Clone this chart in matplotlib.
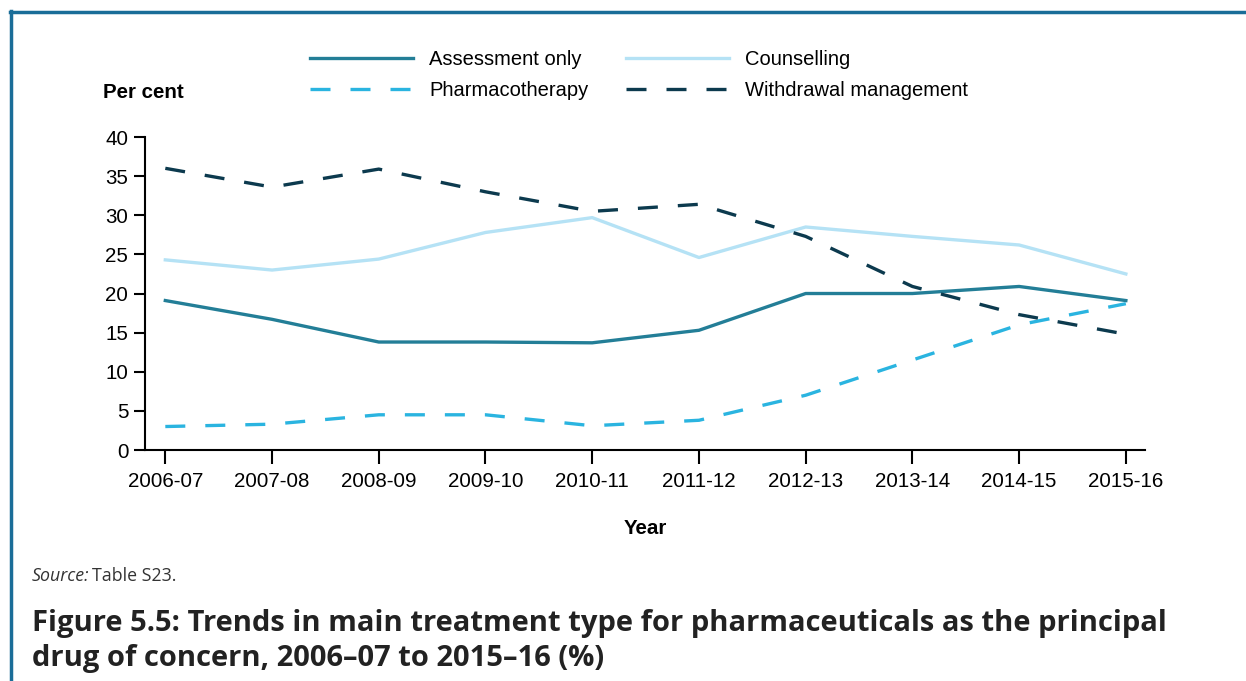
import matplotlib.pyplot as plt
from matplotlib.lines import Line2D

# values (per cent)
years = ["2006-07", "2007-08", "2008-09", "2009-10", "2010-11",
         "2011-12", "2012-13", "2013-14", "2014-15", "2015-16"]
assessment = [19.1, 16.7, 13.8, 13.8, 13.7, 15.3, 20.0, 20.0, 20.9, 19.1]
counselling = [24.3, 23.0, 24.4, 27.8, 29.7, 24.6, 28.5, 27.3, 26.2, 22.5]
pharmacotherapy = [3.0, 3.3, 4.5, 4.5, 3.1, 3.8, 7.0, 11.5, 16.0, 18.7]
withdrawal = [36.0, 33.6, 35.9, 33.0, 30.5, 31.4, 27.3, 20.9, 17.3, 14.8]

C_ASSESS = "#237e97"
C_COUNSEL = "#b5e2f5"
C_PHARMA = "#2ab4e0"
C_WITHDRAW = "#0c3a4e"
C_FRAME = "#1a6d98"

plt.rcParams['font.family'] = ['Liberation Sans', 'DejaVu Sans']
FS = 14.8

fig = plt.figure(figsize=(12.46, 6.81), dpi=100)
ax = fig.add_axes([0.1164, 0.3392, 0.8026, 0.4596])

x = list(range(len(years)))
lw = 2.4
dash = (0, (6, 6))
ax.plot(x, assessment, color=C_ASSESS, lw=lw, label="Assessment only")
ax.plot(x, counselling, color=C_COUNSEL, lw=lw, label="Counselling")
ax.plot(x, pharmacotherapy, color=C_PHARMA, lw=lw, ls=dash, label="Pharmacotherapy")
ax.plot(x, withdrawal, color=C_WITHDRAW, lw=lw, ls=dash, label="Withdrawal management")

ax.set_xlim(-0.19, 9.18)
ax.set_ylim(0, 40)
ax.set_yticks(range(0, 41, 5))
ax.set_xticks(x)
ax.set_xticklabels(years)
ax.spines['top'].set_visible(False)
ax.spines['right'].set_visible(False)
ax.spines['left'].set_linewidth(1.5)
ax.spines['bottom'].set_linewidth(1.5)
ax.tick_params(axis='y', length=8, width=1.5, labelsize=FS, pad=4)
ax.tick_params(axis='x', length=10, width=1.5, labelsize=FS, pad=6)

ax.set_xlabel("Year", fontsize=FS, fontweight='bold', labelpad=20)
fig.text(103 / 1246, 1 - 93 / 681, "Per cent", fontsize=FS, fontweight='bold',
         ha='left', va='center')

# legend in two columns above the plot
handles, labels = ax.get_legend_handles_labels()
order = [0, 2, 1, 3]
fig.legend([handles[i] for i in order], [labels[i] for i in order],
           ncol=2, loc='center left', bbox_to_anchor=(292 / 1246, 1 - 75 / 681),
           frameon=False, fontsize=14.5, handlelength=5.1, handletextpad=0.8,
           columnspacing=1.9, labelspacing=0.6)

# frame lines at top and left
fig.add_artist(Line2D([10 / 1246, 1.0], [1 - 12 / 681, 1 - 12 / 681],
                      color=C_FRAME, lw=2.5, transform=fig.transFigure))
fig.add_artist(Line2D([11 / 1246, 11 / 1246], [0, 1 - 11 / 681],
                      color=C_FRAME, lw=2.5, transform=fig.transFigure))

fig.text(32 / 1246, 1 - 576 / 681, "Source:", fontsize=12.8, family='Open Sans',
         style='italic', color='#333333', ha='left', va='center')
fig.text(92 / 1246, 1 - 576 / 681, "Table S23.", fontsize=12.8, family='Open Sans',
         color='#333333', ha='left', va='center')

fig.text(32 / 1246, 1 - 641 / 681,
         "Figure 5.5: Trends in main treatment type for pharmaceuticals as the principal\n"
         "drug of concern, 2006\u201307 to 2015\u201316 (%)",
         fontsize=21, family='Open Sans', fontweight='bold', color='#222222',
         ha='left', va='center', linespacing=1.28)

fig.savefig("out.png", dpi=100)
